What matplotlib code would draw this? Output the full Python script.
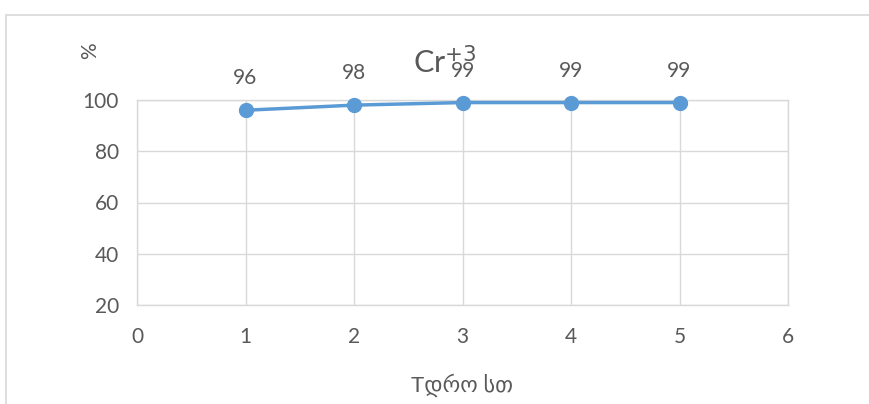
import matplotlib
matplotlib.use("Agg")
from matplotlib import pyplot as plt
from matplotlib.patches import Rectangle

plt.rcParams['font.family'] = ['Lato', 'DejaVu Sans']

hours = [1, 2, 3, 4, 5]
removal = [96, 98, 99, 99, 99]
x_ticks = [0, 1, 2, 3, 4, 5, 6]
y_ticks = [20, 40, 60, 80, 100]

text_col = '#595959'
grid_col = '#d9d9d9'
line_col = '#5b9bd5'

fig = plt.figure(figsize=(8.69, 4.04), dpi=100)
W, H = 869, 404

# chart frame running off the right and bottom edges
fig.patches.append(Rectangle((6 / W, -0.1), 2.0, 1 - 15 / H + 0.1,
                             transform=fig.transFigure, fill=False,
                             edgecolor=grid_col, linewidth=1.2))

ax = fig.add_axes([137 / W, 1 - 305 / H, (788 - 137) / W, (305 - 100) / H])
ax.plot(hours, removal, color=line_col, linewidth=2.5, marker='o',
        markersize=10, zorder=3, clip_on=False)
for x, v in zip(hours, removal):
    ax.annotate(str(v), (x, v), xytext=(0, 23), textcoords='offset points',
                ha='center', va='center', fontsize=15, color=text_col)

ax.set_xlim(0, 6)
ax.set_ylim(20, 100)
ax.set_xticks(x_ticks)
ax.set_yticks(y_ticks)
ax.grid(True, color=grid_col, linewidth=1)
ax.set_axisbelow(True)
for s in ax.spines.values():
    s.set_color(grid_col)
    s.set_linewidth(1)
ax.tick_params(length=0, labelsize=15, labelcolor=text_col)
ax.tick_params(axis='x', pad=16)
ax.tick_params(axis='y', pad=13)

fig.text(445 / W, 1 - 62 / H, 'Cr$^{+3}$', ha='center', va='center',
         fontsize=22, color=text_col)
fig.text(90 / W, 1 - 51 / H, '%', rotation=90, ha='center', va='center',
         fontsize=15, color=text_col)
fig.text(462 / W, 1 - 385 / H, 'Tდრო სთ', ha='center', va='center',
         fontsize=16, color=text_col)

fig.savefig('out.png', dpi=100)
